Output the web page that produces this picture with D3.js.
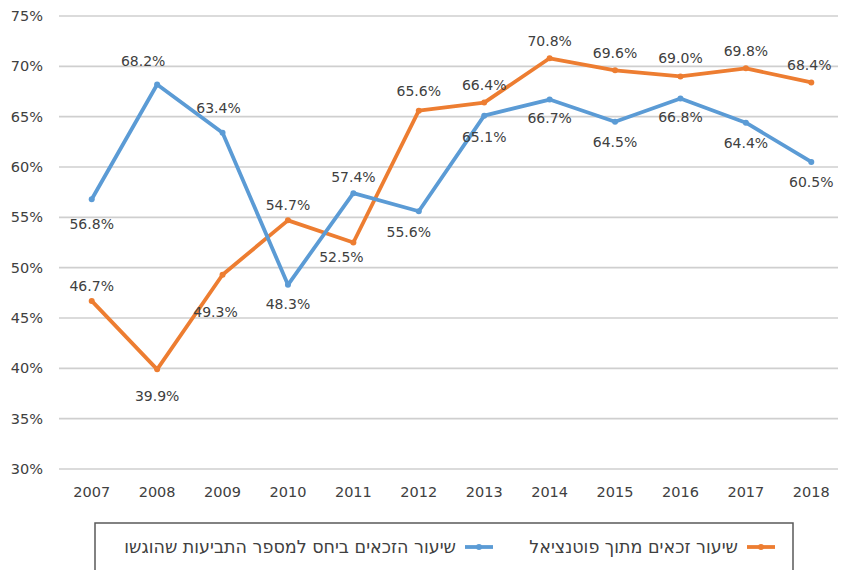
<!DOCTYPE html>
<html>
<head>
<meta charset="utf-8">
<script src="https://cdn.jsdelivr.net/npm/d3@7"></script>
<style>
  body { margin: 0; background: #fff; }
  svg text { font-family: "DejaVu Sans", Verdana, sans-serif; fill: #404040; }
</style>
</head>
<body>
<svg id="chart" width="843" height="570"></svg>
<script>
// data
var years = ["2007","2008","2009","2010","2011","2012","2013","2014","2015","2016","2017","2018"];
var claimRate = [56.8, 68.2, 63.4, 48.3, 57.4, 55.6, 65.1, 66.7, 64.5, 66.8, 64.4, 60.5];
var potentialRate = [46.7, 39.9, 49.3, 54.7, 52.5, 65.6, 66.4, 70.8, 69.6, 69.0, 69.8, 68.4];
var yTicks = [30, 35, 40, 45, 50, 55, 60, 65, 70, 75];
var claimName = "שיעור הזכאים ביחס למספר התביעות שהוגשו";
var potentialName = "שיעור זכאים מתוך פוטנציאל";

// label nudges (pixels from the point), as placed in the original
var claimLabelDx = [0, -14, -4, 0, 0, -10, 0, 0, 0, 0, 0, 0];
var claimLabelDy = [25, -23, -25, 19, -16, 21, 21, 19, 20, 19, 20, 20];
var potentialLabelDx = [0, 0, -7, 0, -12, 0, 0, 0, 0, 0, 0, -2];
var potentialLabelDy = [-15, 27, 37, -15, 15, -20, -17, -17, -17, -18, -17, -17];

var svg = d3.select("#chart"),
    margin = {top: 16, left: 59, bottom: 101, right: 0},
    width = 843,
    height = 570;

var x = d3.scaleBand()
    .domain(years)
    .range([margin.left, 844]);

var y = d3.scaleLinear()
    .domain([30, 75])
    .range([height - margin.bottom, margin.top]);

var cx = (d, i) => x(years[i]) + x.bandwidth() / 2;

// gridlines
svg.append("g").selectAll("line")
    .data(yTicks)
    .enter().append("line")
    .attr("x1", margin.left).attr("x2", 838)
    .attr("y1", d => y(d)).attr("y2", d => y(d))
    .attr("stroke", "#cfcfcf")
    .attr("stroke-width", 1.6);

// y labels
svg.append("g").selectAll("text")
    .data(yTicks)
    .enter().append("text")
    .attr("x", 43)
    .attr("y", d => y(d))
    .attr("dy", "0.35em")
    .attr("text-anchor", "end")
    .style("font-size", "14.5px")
    .text(d => d + "%");

// x labels
svg.append("g").selectAll("text")
    .data(years)
    .enter().append("text")
    .attr("x", d => x(d) + x.bandwidth() / 2)
    .attr("y", 492)
    .attr("dy", "0.35em")
    .attr("text-anchor", "middle")
    .style("font-size", "14.5px")
    .text(d => d);

var line = d3.line()
    .x(cx)
    .y(d => y(d));

var series = [
    {values: potentialRate, dx: potentialLabelDx, dy: potentialLabelDy, color: "#ED7D31"},
    {values: claimRate, dx: claimLabelDx, dy: claimLabelDy, color: "#5B9BD5"}
];

series.forEach(function(s) {
    svg.append("path")
        .datum(s.values)
        .attr("fill", "none")
        .attr("stroke", s.color)
        .attr("stroke-width", 3.8)
        .attr("stroke-linejoin", "round")
        .attr("d", line);

    svg.append("g").selectAll("circle")
        .data(s.values)
        .enter().append("circle")
        .attr("cx", cx)
        .attr("cy", d => y(d))
        .attr("r", 3)
        .attr("fill", s.color);
});

series.forEach(function(s) {
    svg.append("g").selectAll("text")
        .data(s.values)
        .enter().append("text")
        .attr("x", (d, i) => cx(d, i) + s.dx[i])
        .attr("y", (d, i) => y(d) + s.dy[i])
        .attr("dy", "0.35em")
        .attr("text-anchor", "middle")
        .style("font-size", "14px")
        .text(d => d.toFixed(1) + "%");
});

// legend
svg.append("rect")
    .attr("x", 95).attr("y", 523)
    .attr("width", 698).attr("height", 80)
    .attr("fill", "none")
    .attr("stroke", "#595959")
    .attr("stroke-width", 1.5);

var legend = [
    {name: potentialName, color: "#ED7D31", x: 747},
    {name: claimName, color: "#5B9BD5", x: 465}
];
legend.forEach(function(l) {
    svg.append("line")
        .attr("x1", l.x).attr("x2", l.x + 28)
        .attr("y1", 547).attr("y2", 547)
        .attr("stroke", l.color).attr("stroke-width", 3.8);
    svg.append("circle")
        .attr("cx", l.x + 14).attr("cy", 547).attr("r", 3)
        .attr("fill", l.color);
    svg.append("text")
        .attr("x", l.x - 9).attr("y", 547)
        .attr("dy", "0.35em")
        .attr("text-anchor", "end")
        .style("font-size", "17.5px")
        .text(l.name);
});
</script>
</body>
</html>
